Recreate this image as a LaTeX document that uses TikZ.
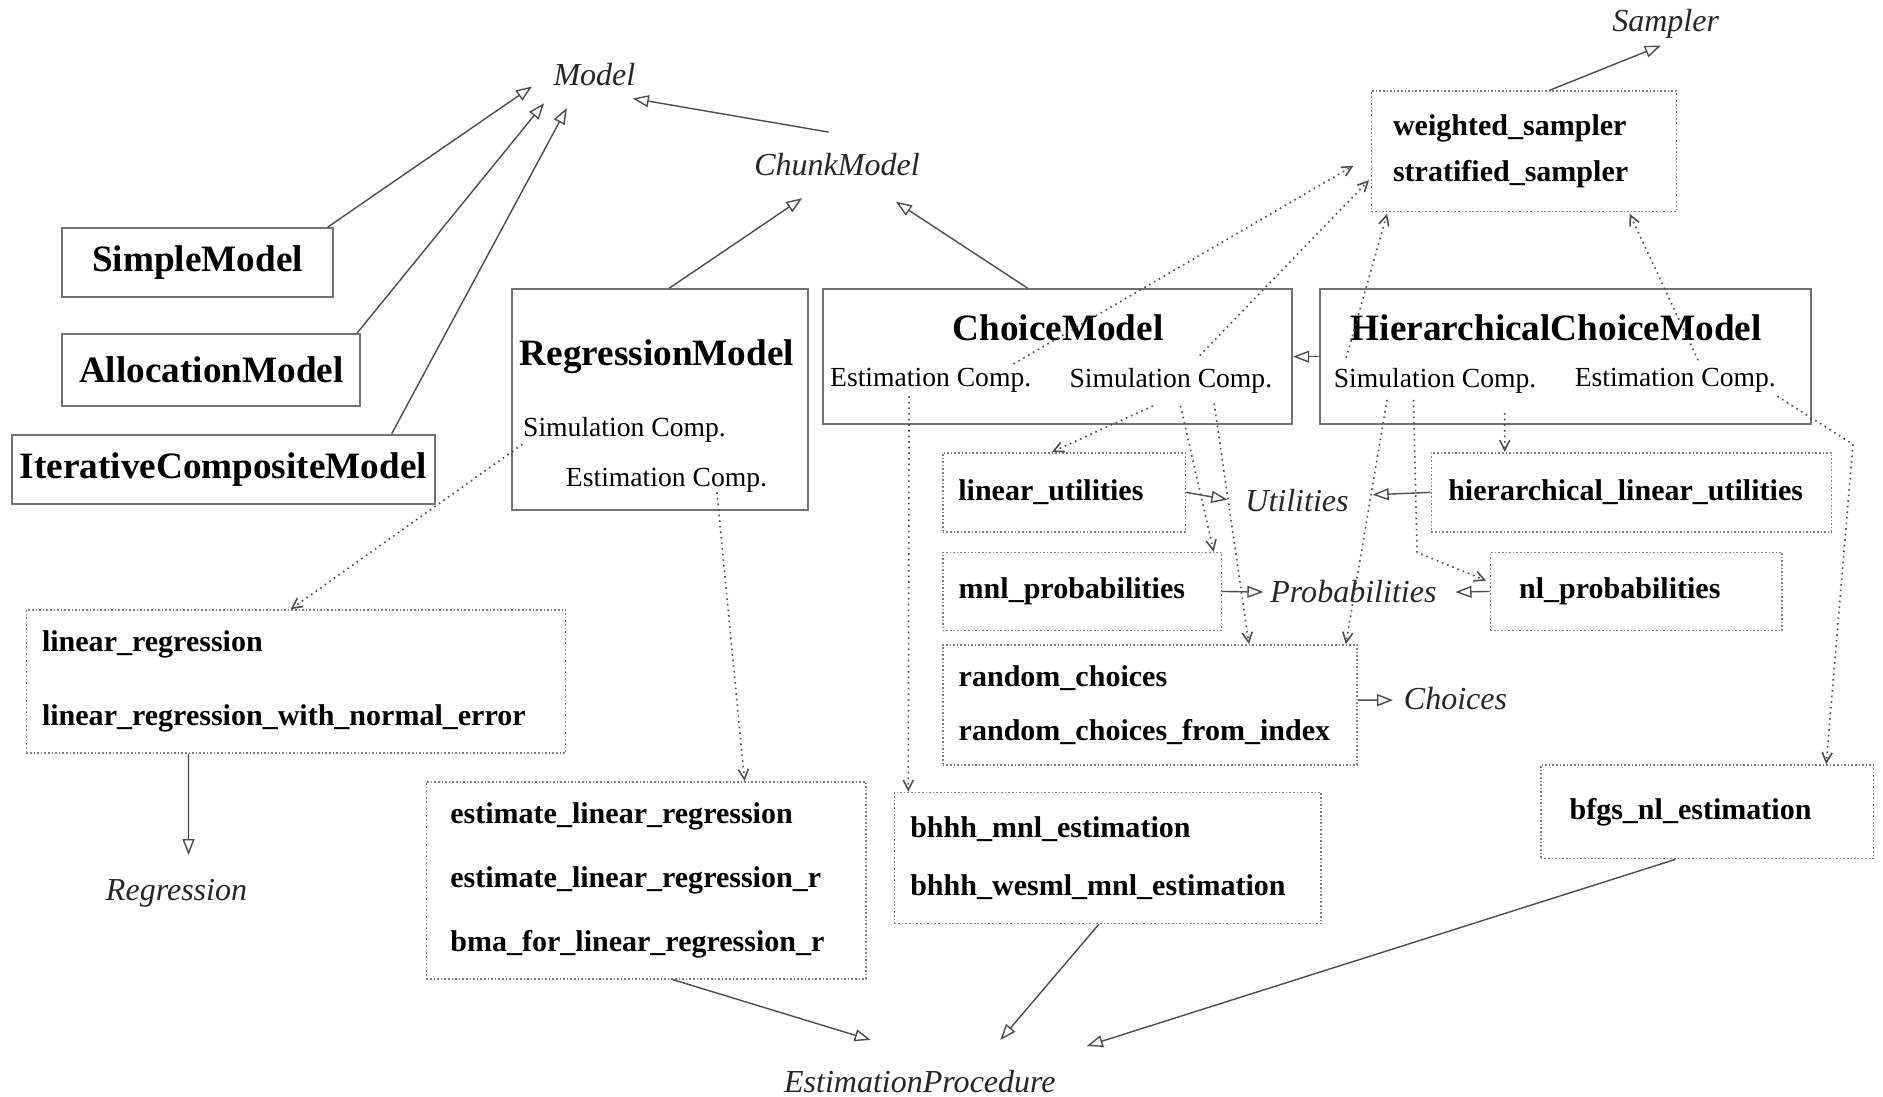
\documentclass[tikz,border=0pt]{standalone}
\usepackage{fontspec}
\setmainfont{Liberation Serif}
\usepackage{tikz}
\usetikzlibrary{arrows.meta}

\begin{document}
\begin{tikzpicture}[
  x=0.6pt, y=-0.6pt,
  classe/.style={draw=black!55, line width=1pt, font=\fontsize{18.6}{22}\selectfont\bfseries},
  nome/.style={font=\fontsize{18.6}{22}\selectfont\bfseries, inner sep=0pt},
  compart/.style={font=\fontsize{13.8}{16}\selectfont, inner sep=0pt},
  modulo/.style={draw=black!50, densely dotted, line width=0.8pt, align=left,
                 font=\fontsize{15}{18}\selectfont\bfseries},
  rotulo/.style={font=\fontsize{16}{19}\selectfont\itshape, text=black!85, inner sep=0pt},
  heranca/.style={-{Triangle[open,length=8pt,width=6pt]}, line width=0.7pt, draw=black!70},
  usa/.style={-{Straight Barb[length=5pt,width=5pt]}, dotted, line width=0.8pt, draw=black!70}
]
\useasboundingbox (0,0) rectangle (1568,913);

% classes
\node[classe, minimum width=135pt, minimum height=34.2pt] (simple) at (164.5,218.5) {SimpleModel};
\node[classe, minimum width=148.8pt, minimum height=36pt] (alloc) at (176,308) {AllocationModel};
\node[classe, minimum width=211.2pt, minimum height=34.8pt] (iter) at (186,391) {IterativeCompositeModel};

\node[classe, minimum width=148.2pt, minimum height=110.4pt] (regr) at (549.5,333) {};
\node[nome] (regrnome) at (547,297) {RegressionModel};
\node[compart] (regsim) at (520,358) {Simulation Comp.};
\node[compart] (regest) at (555,400) {Estimation Comp.};

\node[classe, minimum width=234.6pt, minimum height=67.2pt] (choice) at (880.5,297) {};
\node[nome] (choicenome) at (881,273) {ChoiceModel};
\node[compart] (cmest) at (775,317) {Estimation Comp.};
\node[compart] (cmsim) at (975,317) {Simulation Comp.};

\node[classe, minimum width=245.4pt, minimum height=67.2pt] (hcm) at (1303.5,297) {};
\node[nome] (hcmnome) at (1296,273) {HierarchicalChoiceModel};
\node[compart] (hcmsim) at (1195,317) {Simulation Comp.};
\node[compart] (hcmest) at (1395,317) {Estimation Comp.};

% interfaces
\node[rotulo] (model) at (495,62) {Model};
\node[rotulo] (chunk) at (697,137) {ChunkModel};
\node[rotulo] (sampler) at (1387,20) {Sampler};
\node[rotulo] (util) at (1080,417) {Utilities};
\node[rotulo] (prob) at (1127,493) {Probabilities};
\node[rotulo] (choices) at (1212,582) {Choices};
\node[rotulo] (regression) at (147,744) {Regression};
\node[rotulo] (estproc) at (766,901) {EstimationProcedure};

% modules
\node[modulo, minimum width=152.4pt, minimum height=60pt, text width=130.8pt, inner xsep=10.8pt] (samp) at (1269,126)
  {weighted\_sampler\\[5.4pt]stratified\_sampler};
\node[modulo, minimum width=121.2pt, minimum height=39.6pt, text width=105.6pt, inner xsep=7.8pt] (lu) at (886,410)
  {linear\_utilities};
\node[modulo, minimum width=199.8pt, minimum height=39.6pt, text width=183pt, inner xsep=8.4pt] (hlu) at (1358.5,410)
  {hierarchical\_linear\_utilities};
\node[modulo, minimum width=139.2pt, minimum height=39pt, text width=123.2pt, inner xsep=8pt] (mnl) at (901,492.5)
  {mnl\_probabilities};
\node[modulo, minimum width=145.8pt, minimum height=39pt, text width=117pt, inner xsep=14.4pt] (nl) at (1362.5,492.5)
  {nl\_probabilities};
\node[modulo, minimum width=207pt, minimum height=60pt, text width=191pt, inner xsep=8pt] (rand) at (957.5,587)
  {random\_choices\\[9pt]random\_choices\_from\_index};
\node[modulo, minimum width=269.4pt, minimum height=71.4pt, text width=253.8pt, inner xsep=7.8pt] (lr) at (246.5,567.5)
  {linear\_regression\\[18.6pt]linear\_regression\_with\_normal\_error};
\node[modulo, minimum width=219.6pt, minimum height=98.4pt, text width=195.6pt, inner xsep=12pt] (est) at (538,733)
  {estimate\_linear\_regression\\[13.8pt]estimate\_linear\_regression\_r\\[13.8pt]bma\_for\_linear\_regression\_r};
\node[modulo, minimum width=213pt, minimum height=65.4pt, text width=197.4pt, inner xsep=7.8pt] (bhhh) at (922.5,714.5)
  {bhhh\_mnl\_estimation\\[10.8pt]bhhh\_wesml\_mnl\_estimation};
\node[modulo, minimum width=166.2pt, minimum height=46.8pt, text width=137.4pt, inner xsep=14.4pt] (bfgs) at (1421.5,676)
  {bfgs\_nl\_estimation};

% generalizations
\draw[heranca] ([xshift=-3pt]simple.north east) -- ([shift={(-52,10)}]model.center);
\draw[heranca] ([xshift=-2pt]alloc.north east) -- ([shift={(-42,24)}]model.center);
\draw[heranca] ([xshift=-22pt]iter.north east) -- ([shift={(-23,28)}]model.center);
\draw[heranca] ([shift={(-7,-27)}]chunk.center) -- ([shift={(32,20)}]model.center);
\draw[heranca] ([xshift=4.5pt]regr.north) -- ([shift={(-29,28)}]chunk.center);
\draw[heranca] ([xshift=-14.7pt]choice.north) -- ([shift={(49,31)}]chunk.center);
\draw[heranca] ([xshift=12.6pt]samp.north) -- ([shift={(-4,18)}]sampler.center);
\draw[heranca] (hcm.west) -- (choice.east);
\draw[heranca] ([xshift=-53.7pt]lr.south) -- ([shift={(10,-32)}]regression.center);
\draw[heranca] ([xshift=13.2pt]est.south) -- ([shift={(-41,-35)}]estproc.center);
\draw[heranca] ([xshift=-4.5pt]bhhh.south) -- ([shift={(67,-35)}]estproc.center);
\draw[heranca] ([xshift=-15.9pt]bfgs.south) -- ([shift={(139,-30)}]estproc.center);

% realizations
\draw[heranca] (lu.east) -- ([shift={(-58,-1)}]util.center);
\draw[heranca] (hlu.west) -- ([shift={(63,-5)}]util.center);
\draw[heranca] (mnl.east) -- ([shift={(-75,0)}]prob.center);
\draw[heranca] (nl.west) -- ([shift={(85,0)}]prob.center);
\draw[heranca] ([yshift=2.4pt]rand.east) -- ([shift={(-52,1)}]choices.center);

% dependencies
\draw[usa] ([shift={(-85,12)}]regsim.center) -- ([xshift=-2.7pt]lr.north);
\draw[usa] ([shift={(42,10)}]regest.center) -- ([xshift=49.2pt]est.north);
\draw[usa] ([shift={(-18,13)}]cmest.center) -- ([xshift=7.2pt]bhhh.north west);
\draw[usa] ([shift={(69,-14)}]cmest.center) -- ([shift={(-142,12)}]samp.center);
\draw[usa] ([shift={(24,-21)}]cmsim.center) -- ([shift={(-129,24)}]samp.center);
\draw[usa] ([shift={(-15,21)}]cmsim.center) -- ([xshift=-6pt]lu.north);
\draw[usa] ([shift={(8,21)}]cmsim.center) -- ([xshift=-4.2pt]mnl.north east);
\draw[usa] ([shift={(36,19)}]cmsim.center) -- ([xshift=49.5pt]rand.north);
\draw[usa] ([shift={(-40,16)}]hcmsim.center) -- ([xshift=-6pt]rand.north east);
\draw[usa] ([shift={(-74,-19)}]hcmsim.center) -- ([shift={(-114,52)}]samp.center);
\draw[usa] ([shift={(-18,16)}]hcmsim.center) -- ++(3,127) -- ([shift={(-125,-9)}]nl.center);
\draw[usa] ([shift={(58,27)}]hcmsim.center) -- ([xshift=-63.3pt]hlu.north);
\draw[usa] ([shift={(19,-17)}]hcmest.center) -- ([shift={(88,52)}]samp.center);
\draw[usa] ([shift={(85,13)}]hcmest.center) -- ++(63,40) -- ([xshift=-24pt]bfgs.north east);
\end{tikzpicture}
\end{document}
